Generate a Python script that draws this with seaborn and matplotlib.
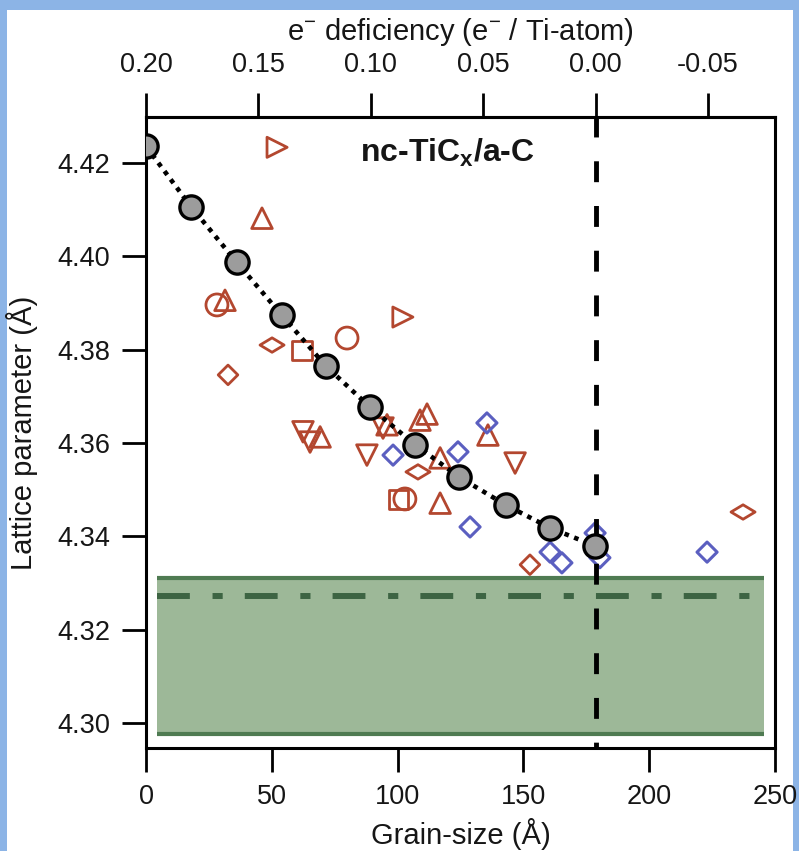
import numpy as np
import matplotlib
matplotlib.use("Agg")
import matplotlib.pyplot as plt
import seaborn as sns
from matplotlib.markers import MarkerStyle
from matplotlib.transforms import Affine2D
from matplotlib.patches import Rectangle
from matplotlib.ticker import FormatStrFormatter

# ---------------- data ----------------
grey_grain = [0, 18, 36, 54, 71.5, 89, 107, 124.5, 143, 160.6, 178.6]
grey_lattice = [4.4236, 4.4106, 4.3988, 4.3874, 4.3765, 4.3677, 4.3596, 4.3527, 4.3467, 4.3418, 4.3379]

tri_up_grain = [46.1, 31.4, 69.2, 95.8, 108.9, 111.7, 116.9, 135.9, 116.9]
tri_up_lattice = [4.4082, 4.3906, 4.3613, 4.3639, 4.3649, 4.3662, 4.3568, 4.3617, 4.3471]
tri_down_grain = [62.4, 65.2, 87.8, 94.2, 146.7]
tri_down_lattice = [4.3624, 4.3602, 4.3574, 4.3632, 4.3557]
tri_right_grain = [52.1, 102.1]
tri_right_lattice = [4.4234, 4.3870]
circle_grain = [28.2, 79.9, 102.9]
circle_lattice = [4.3896, 4.3825, 4.3480]
square_grain = [62.0, 100.2]
square_lattice = [4.3799, 4.3478]
diamond_grain = [32.6, 152.6]
diamond_lattice = [4.3746, 4.3339]
hdiamond_grain = [50.1, 108.1, 237.3]
hdiamond_lattice = [4.3810, 4.3538, 4.3452]
blue_grain = [98.2, 124.0, 135.5, 128.8, 160.6, 165.3, 178.5, 180.4, 223.0]
blue_lattice = [4.3574, 4.3581, 4.3643, 4.3420, 4.3366, 4.3343, 4.3407, 4.3354, 4.3366]

band_low, band_high, band_mid = 4.2976, 4.3311, 4.3272
band_x = [4.4, 245.6]
stoich_grain = 178.7

x_ticks = [0, 50, 100, 150, 200, 250]
y_ticks = [4.30, 4.32, 4.34, 4.36, 4.38, 4.40, 4.42]
deficiency_ticks = [0.20, 0.15, 0.10, 0.05, 0.0, -0.05]

# ---------------- style ----------------
sns.set_theme(style="ticks")
plt.rcParams['font.family'] = ['Liberation Sans', 'DejaVu Sans']
plt.rcParams['mathtext.fontset'] = 'custom'
plt.rcParams['mathtext.rm'] = 'Liberation Sans'
plt.rcParams['mathtext.it'] = 'Liberation Sans:italic'
plt.rcParams['mathtext.bf'] = 'Liberation Sans:bold'
plt.rcParams['axes.unicode_minus'] = False

RED = '#b3472f'
BLUE = '#5b5fc0'
TXT = '#161616'

fig = plt.figure(figsize=(7.99, 8.51), dpi=100)
fig.patch.set_facecolor('#8cb4e6')
fig.add_artist(Rectangle((7 / 799, 0), (793 - 7) / 799, (851 - 10) / 851,
                         transform=fig.transFigure, facecolor='white',
                         edgecolor='none', zorder=-1))
ax = fig.add_axes([146 / 799, 1 - 748 / 851, (775 - 146) / 799, (748 - 117) / 851])
ax.set_facecolor('white')

# green band
ax.fill_between(band_x, band_low, band_high, color='#9db898', lw=0, zorder=1)
ax.hlines([band_low, band_high], band_x[0], band_x[1], colors='#4f7b52', lw=3, zorder=2)
ax.plot(band_x, [band_mid, band_mid], color='#3d6443', lw=4.3,
        ls=(0, (5.5, 3.8, 1.7, 3.7)), zorder=2)

# stoichiometric line
ax.axvline(stoich_grain, color='black', lw=3.5, ls=(3.1, (4.3, 4.9)), zorder=5)


def open_scatter(x, y, marker, s, color, lw=2.0):
    sns.scatterplot(x=x, y=y, marker=marker, s=s, facecolor='none',
                    edgecolor=color, linewidth=lw, ax=ax, zorder=3, legend=False)


hdiamond = MarkerStyle('d', transform=Affine2D().rotate_deg(90))
open_scatter(tri_up_grain, tri_up_lattice, '^', 220, RED)
open_scatter(tri_down_grain, tri_down_lattice, 'v', 220, RED)
open_scatter(tri_right_grain, tri_right_lattice, '>', 210, RED)
open_scatter(circle_grain, circle_lattice, 'o', 250, RED)
open_scatter(square_grain, square_lattice, 's', 190, RED)
open_scatter(diamond_grain, diamond_lattice, 'D', 100, RED)
open_scatter(hdiamond_grain, hdiamond_lattice, hdiamond, 150, RED)
open_scatter(blue_grain, blue_lattice, 'D', 105, BLUE, lw=2.2)

# grey series
sns.lineplot(x=grey_grain, y=grey_lattice, color='black', lw=3.3,
             linestyle=(0, (1.0, 1.25)), ax=ax, zorder=6)
sns.scatterplot(x=grey_grain, y=grey_lattice, s=280, marker='o', facecolor='#9c9c9c',
                edgecolor='black', linewidth=2.4, ax=ax, zorder=7, legend=False)

# axes
ax.set_xlim(0, 250)
ax.set_ylim(4.2946, 4.4299)
ax.set_xticks(x_ticks)
ax.set_yticks(y_ticks)
ax.yaxis.set_major_formatter(FormatStrFormatter('%.2f'))
ax.tick_params(direction='out', length=17, width=2, labelsize=19.5, pad=9,
               colors='black', labelcolor=TXT, bottom=True, left=True,
               top=False, right=False)
for sp in ax.spines.values():
    sp.set_linewidth(2.2)
    sp.set_color('black')
    sp.set_visible(True)

ax.set_xlabel('Grain-size (Å)', fontsize=21, color=TXT)
ax.set_ylabel('Lattice parameter (Å)', fontsize=21, color=TXT)
ax.xaxis.set_label_coords(0.5, -0.111)
ax.yaxis.set_label_coords(-0.172, 0.5)


def g2d(g):
    return 0.2 - np.asarray(g, dtype=float) / 893.5


def d2g(d):
    return (0.2 - np.asarray(d, dtype=float)) * 893.5


sec = ax.secondary_xaxis('top', functions=(g2d, d2g))
sec.set_xticks(deficiency_ticks)
sec.xaxis.set_major_formatter(FormatStrFormatter('%.2f'))
sec.tick_params(direction='out', length=17, width=2, labelsize=19.5, pad=11,
                colors='black', labelcolor=TXT)
sec.spines['top'].set_linewidth(2.2)
sec.set_xlabel(r'e$^{-}$ deficiency (e$^{-}$ / Ti-atom)', fontsize=21,
               labelpad=9, color=TXT)

ax.text(0.340, 0.929, r'nc-TiC$_\mathbf{x}$/a-C', transform=ax.transAxes,
        fontsize=23, fontweight='bold', ha='left', va='baseline', color=TXT,
        zorder=8)

fig.savefig('out.png', dpi=100, facecolor=fig.get_facecolor())
